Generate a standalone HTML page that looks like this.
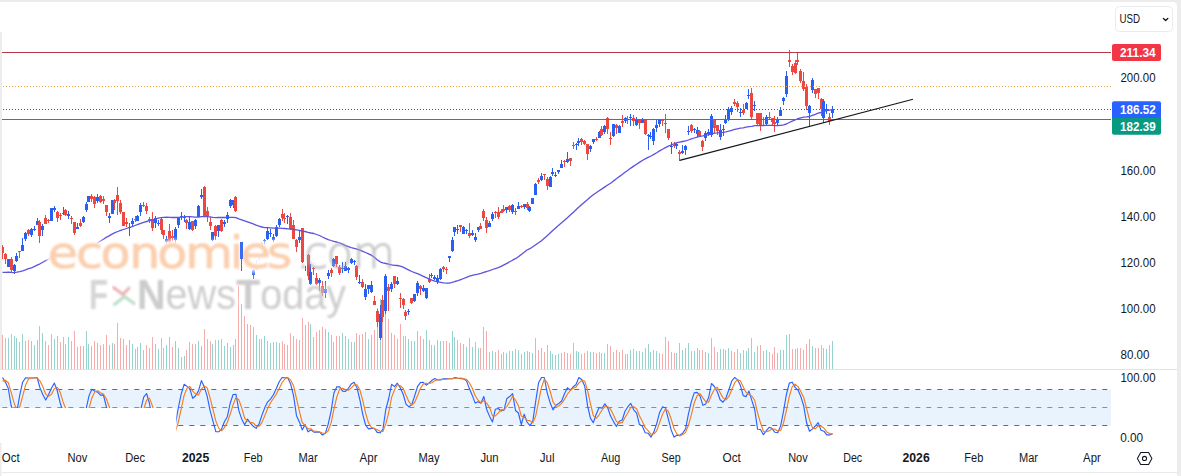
<!DOCTYPE html>
<html lang="en"><head><meta charset="utf-8"><title>NVDA chart</title>
<style>
html,body{margin:0;padding:0;background:#ececec;}
body{width:1181px;height:476px;overflow:hidden;position:relative;font-family:'Liberation Sans', sans-serif;}
</style></head><body>
<svg width="1181" height="476" viewBox="0 0 1181 476" style="display:block;position:absolute;left:0;top:0">
<defs>
<filter id="b1" x="-5%" y="-30%" width="110%" height="160%"><feGaussianBlur stdDeviation="0.9"/></filter>
<filter id="b1e" x="-5%" y="-30%" width="110%" height="160%"><feGaussianBlur stdDeviation="0.8"/></filter>
<filter id="b2" x="-5%" y="-40%" width="110%" height="180%"><feGaussianBlur stdDeviation="2.2"/></filter>
<clipPath id="mainclip"><rect x="0" y="2" width="1111" height="367"/></clipPath>
<clipPath id="stclip"><rect x="0" y="370" width="1111" height="74"/></clipPath>
</defs>
<rect x="0" y="0" width="1181" height="476" fill="#ececec"/>
<path d="M0 2 H1173 Q1177 2 1177 6 V476 H0 Z" fill="#ffffff"/>
<rect x="0" y="389.5" width="1111" height="36" fill="#e9f3fd"/>
<line x1="0" x2="1111" y1="389.5" y2="389.5" stroke="#666975" stroke-width="1" stroke-dasharray="5 6" stroke-dashoffset="-2.3"/>
<line x1="0" x2="1111" y1="407.5" y2="407.5" stroke="#8b8e98" stroke-width="1" stroke-dasharray="5 6" stroke-dashoffset="-2.3"/>
<line x1="0" x2="1111" y1="425.5" y2="425.5" stroke="#666975" stroke-width="1" stroke-dasharray="5 6" stroke-dashoffset="-2.3"/>
<g clip-path="url(#mainclip)" shape-rendering="crispEdges">
<rect x="2" y="335" width="1" height="34" fill="#f6acaa"/>
<rect x="5" y="338" width="1" height="31" fill="#f6acaa"/>
<rect x="8" y="338" width="1" height="31" fill="#96d3cd"/>
<rect x="11" y="334" width="1" height="35" fill="#f6acaa"/>
<rect x="14" y="336" width="1" height="33" fill="#96d3cd"/>
<rect x="16" y="338" width="1" height="31" fill="#96d3cd"/>
<rect x="19" y="342" width="1" height="27" fill="#f6acaa"/>
<rect x="22" y="334" width="1" height="35" fill="#96d3cd"/>
<rect x="25" y="341" width="1" height="28" fill="#96d3cd"/>
<rect x="28" y="340" width="1" height="29" fill="#f6acaa"/>
<rect x="31" y="341" width="1" height="28" fill="#96d3cd"/>
<rect x="34" y="345" width="1" height="24" fill="#96d3cd"/>
<rect x="37" y="340" width="1" height="29" fill="#96d3cd"/>
<rect x="39" y="326" width="1" height="43" fill="#f6acaa"/>
<rect x="42" y="333" width="1" height="36" fill="#96d3cd"/>
<rect x="45" y="341" width="1" height="28" fill="#f6acaa"/>
<rect x="48" y="345" width="1" height="24" fill="#f6acaa"/>
<rect x="51" y="334" width="1" height="35" fill="#96d3cd"/>
<rect x="54" y="339" width="1" height="30" fill="#96d3cd"/>
<rect x="57" y="336" width="1" height="33" fill="#f6acaa"/>
<rect x="60" y="342" width="1" height="27" fill="#f6acaa"/>
<rect x="63" y="337" width="1" height="32" fill="#96d3cd"/>
<rect x="65" y="344" width="1" height="25" fill="#f6acaa"/>
<rect x="68" y="337" width="1" height="32" fill="#96d3cd"/>
<rect x="71" y="341" width="1" height="28" fill="#f6acaa"/>
<rect x="74" y="331" width="1" height="38" fill="#f6acaa"/>
<rect x="77" y="347" width="1" height="22" fill="#96d3cd"/>
<rect x="80" y="346" width="1" height="23" fill="#f6acaa"/>
<rect x="83" y="346" width="1" height="23" fill="#96d3cd"/>
<rect x="86" y="331" width="1" height="38" fill="#96d3cd"/>
<rect x="88" y="344" width="1" height="25" fill="#96d3cd"/>
<rect x="91" y="346" width="1" height="23" fill="#f6acaa"/>
<rect x="94" y="341" width="1" height="28" fill="#f6acaa"/>
<rect x="97" y="343" width="1" height="26" fill="#96d3cd"/>
<rect x="100" y="345" width="1" height="24" fill="#f6acaa"/>
<rect x="103" y="344" width="1" height="25" fill="#f6acaa"/>
<rect x="106" y="335" width="1" height="34" fill="#f6acaa"/>
<rect x="109" y="345" width="1" height="24" fill="#96d3cd"/>
<rect x="112" y="343" width="1" height="26" fill="#96d3cd"/>
<rect x="114" y="344" width="1" height="25" fill="#f6acaa"/>
<rect x="117" y="323" width="1" height="46" fill="#f6acaa"/>
<rect x="120" y="338" width="1" height="31" fill="#f6acaa"/>
<rect x="123" y="339" width="1" height="30" fill="#f6acaa"/>
<rect x="126" y="345" width="1" height="24" fill="#f6acaa"/>
<rect x="129" y="340" width="1" height="29" fill="#96d3cd"/>
<rect x="132" y="344" width="1" height="25" fill="#96d3cd"/>
<rect x="135" y="349" width="1" height="20" fill="#f6acaa"/>
<rect x="137" y="347" width="1" height="22" fill="#96d3cd"/>
<rect x="140" y="343" width="1" height="26" fill="#96d3cd"/>
<rect x="143" y="350" width="1" height="19" fill="#f6acaa"/>
<rect x="146" y="345" width="1" height="24" fill="#f6acaa"/>
<rect x="149" y="348" width="1" height="21" fill="#f6acaa"/>
<rect x="152" y="337" width="1" height="32" fill="#f6acaa"/>
<rect x="155" y="344" width="1" height="25" fill="#96d3cd"/>
<rect x="158" y="349" width="1" height="20" fill="#96d3cd"/>
<rect x="161" y="338" width="1" height="31" fill="#f6acaa"/>
<rect x="163" y="348" width="1" height="21" fill="#f6acaa"/>
<rect x="166" y="345" width="1" height="24" fill="#96d3cd"/>
<rect x="169" y="337" width="1" height="32" fill="#f6acaa"/>
<rect x="172" y="347" width="1" height="22" fill="#f6acaa"/>
<rect x="175" y="341" width="1" height="28" fill="#96d3cd"/>
<rect x="178" y="348" width="1" height="21" fill="#96d3cd"/>
<rect x="181" y="357" width="1" height="12" fill="#96d3cd"/>
<rect x="184" y="356" width="1" height="13" fill="#96d3cd"/>
<rect x="186" y="350" width="1" height="19" fill="#f6acaa"/>
<rect x="189" y="342" width="1" height="27" fill="#96d3cd"/>
<rect x="192" y="344" width="1" height="25" fill="#f6acaa"/>
<rect x="195" y="344" width="1" height="25" fill="#96d3cd"/>
<rect x="198" y="341" width="1" height="28" fill="#96d3cd"/>
<rect x="201" y="346" width="1" height="23" fill="#96d3cd"/>
<rect x="204" y="329" width="1" height="40" fill="#f6acaa"/>
<rect x="207" y="339" width="1" height="30" fill="#f6acaa"/>
<rect x="210" y="341" width="1" height="28" fill="#f6acaa"/>
<rect x="212" y="344" width="1" height="25" fill="#96d3cd"/>
<rect x="215" y="340" width="1" height="29" fill="#f6acaa"/>
<rect x="218" y="340" width="1" height="29" fill="#96d3cd"/>
<rect x="221" y="339" width="1" height="30" fill="#f6acaa"/>
<rect x="224" y="346" width="1" height="23" fill="#96d3cd"/>
<rect x="227" y="343" width="1" height="26" fill="#96d3cd"/>
<rect x="230" y="347" width="1" height="22" fill="#96d3cd"/>
<rect x="233" y="345" width="1" height="24" fill="#96d3cd"/>
<rect x="235" y="339" width="1" height="30" fill="#f6acaa"/>
<rect x="238" y="286" width="1" height="83" fill="#f6acaa"/>
<rect x="241" y="304" width="1" height="65" fill="#96d3cd"/>
<rect x="244" y="316" width="1" height="53" fill="#f6acaa"/>
<rect x="247" y="324" width="1" height="45" fill="#96d3cd"/>
<rect x="250" y="325" width="1" height="44" fill="#f6acaa"/>
<rect x="253" y="327" width="1" height="42" fill="#96d3cd"/>
<rect x="256" y="335" width="1" height="34" fill="#96d3cd"/>
<rect x="259" y="339" width="1" height="30" fill="#96d3cd"/>
<rect x="261" y="339" width="1" height="30" fill="#96d3cd"/>
<rect x="264" y="336" width="1" height="33" fill="#96d3cd"/>
<rect x="267" y="341" width="1" height="28" fill="#96d3cd"/>
<rect x="270" y="343" width="1" height="26" fill="#96d3cd"/>
<rect x="273" y="342" width="1" height="27" fill="#96d3cd"/>
<rect x="276" y="342" width="1" height="27" fill="#96d3cd"/>
<rect x="279" y="343" width="1" height="26" fill="#96d3cd"/>
<rect x="282" y="341" width="1" height="28" fill="#f6acaa"/>
<rect x="284" y="344" width="1" height="25" fill="#f6acaa"/>
<rect x="287" y="345" width="1" height="24" fill="#96d3cd"/>
<rect x="290" y="333" width="1" height="36" fill="#f6acaa"/>
<rect x="293" y="336" width="1" height="33" fill="#f6acaa"/>
<rect x="296" y="339" width="1" height="30" fill="#f6acaa"/>
<rect x="299" y="340" width="1" height="29" fill="#96d3cd"/>
<rect x="302" y="318" width="1" height="51" fill="#f6acaa"/>
<rect x="305" y="325" width="1" height="44" fill="#96d3cd"/>
<rect x="308" y="322" width="1" height="47" fill="#f6acaa"/>
<rect x="310" y="324" width="1" height="45" fill="#96d3cd"/>
<rect x="313" y="337" width="1" height="32" fill="#f6acaa"/>
<rect x="316" y="332" width="1" height="37" fill="#f6acaa"/>
<rect x="319" y="330" width="1" height="39" fill="#96d3cd"/>
<rect x="322" y="327" width="1" height="42" fill="#f6acaa"/>
<rect x="325" y="329" width="1" height="40" fill="#96d3cd"/>
<rect x="328" y="332" width="1" height="37" fill="#96d3cd"/>
<rect x="331" y="335" width="1" height="34" fill="#f6acaa"/>
<rect x="333" y="342" width="1" height="27" fill="#96d3cd"/>
<rect x="336" y="336" width="1" height="33" fill="#f6acaa"/>
<rect x="339" y="336" width="1" height="33" fill="#f6acaa"/>
<rect x="342" y="333" width="1" height="36" fill="#96d3cd"/>
<rect x="345" y="336" width="1" height="33" fill="#96d3cd"/>
<rect x="348" y="339" width="1" height="30" fill="#96d3cd"/>
<rect x="351" y="342" width="1" height="27" fill="#96d3cd"/>
<rect x="354" y="342" width="1" height="27" fill="#96d3cd"/>
<rect x="356" y="333" width="1" height="36" fill="#f6acaa"/>
<rect x="359" y="335" width="1" height="34" fill="#96d3cd"/>
<rect x="362" y="334" width="1" height="35" fill="#f6acaa"/>
<rect x="365" y="332" width="1" height="37" fill="#96d3cd"/>
<rect x="368" y="339" width="1" height="30" fill="#96d3cd"/>
<rect x="371" y="335" width="1" height="34" fill="#96d3cd"/>
<rect x="374" y="330" width="1" height="39" fill="#f6acaa"/>
<rect x="377" y="308" width="1" height="61" fill="#f6acaa"/>
<rect x="380" y="299" width="1" height="70" fill="#96d3cd"/>
<rect x="382" y="315" width="1" height="54" fill="#f6acaa"/>
<rect x="385" y="299" width="1" height="70" fill="#96d3cd"/>
<rect x="388" y="319" width="1" height="50" fill="#f6acaa"/>
<rect x="391" y="333" width="1" height="36" fill="#96d3cd"/>
<rect x="394" y="335" width="1" height="34" fill="#f6acaa"/>
<rect x="397" y="339" width="1" height="30" fill="#96d3cd"/>
<rect x="400" y="324" width="1" height="45" fill="#f6acaa"/>
<rect x="403" y="336" width="1" height="33" fill="#f6acaa"/>
<rect x="405" y="336" width="1" height="33" fill="#f6acaa"/>
<rect x="408" y="339" width="1" height="30" fill="#96d3cd"/>
<rect x="411" y="341" width="1" height="28" fill="#f6acaa"/>
<rect x="414" y="341" width="1" height="28" fill="#96d3cd"/>
<rect x="417" y="331" width="1" height="38" fill="#96d3cd"/>
<rect x="420" y="336" width="1" height="33" fill="#f6acaa"/>
<rect x="423" y="339" width="1" height="30" fill="#96d3cd"/>
<rect x="426" y="330" width="1" height="39" fill="#96d3cd"/>
<rect x="429" y="340" width="1" height="29" fill="#f6acaa"/>
<rect x="431" y="345" width="1" height="24" fill="#96d3cd"/>
<rect x="434" y="345" width="1" height="24" fill="#96d3cd"/>
<rect x="437" y="340" width="1" height="29" fill="#96d3cd"/>
<rect x="440" y="341" width="1" height="28" fill="#96d3cd"/>
<rect x="443" y="341" width="1" height="28" fill="#f6acaa"/>
<rect x="446" y="341" width="1" height="28" fill="#f6acaa"/>
<rect x="449" y="343" width="1" height="26" fill="#96d3cd"/>
<rect x="452" y="331" width="1" height="38" fill="#96d3cd"/>
<rect x="454" y="337" width="1" height="32" fill="#96d3cd"/>
<rect x="457" y="340" width="1" height="29" fill="#96d3cd"/>
<rect x="460" y="343" width="1" height="26" fill="#f6acaa"/>
<rect x="463" y="344" width="1" height="25" fill="#96d3cd"/>
<rect x="466" y="347" width="1" height="22" fill="#96d3cd"/>
<rect x="469" y="338" width="1" height="31" fill="#f6acaa"/>
<rect x="472" y="347" width="1" height="22" fill="#96d3cd"/>
<rect x="475" y="342" width="1" height="27" fill="#96d3cd"/>
<rect x="478" y="348" width="1" height="21" fill="#96d3cd"/>
<rect x="480" y="348" width="1" height="21" fill="#f6acaa"/>
<rect x="483" y="327" width="1" height="42" fill="#f6acaa"/>
<rect x="486" y="331" width="1" height="38" fill="#f6acaa"/>
<rect x="489" y="352" width="1" height="17" fill="#96d3cd"/>
<rect x="492" y="351" width="1" height="18" fill="#96d3cd"/>
<rect x="495" y="352" width="1" height="17" fill="#f6acaa"/>
<rect x="498" y="350" width="1" height="19" fill="#f6acaa"/>
<rect x="501" y="354" width="1" height="15" fill="#f6acaa"/>
<rect x="503" y="352" width="1" height="17" fill="#f6acaa"/>
<rect x="506" y="353" width="1" height="16" fill="#96d3cd"/>
<rect x="509" y="351" width="1" height="18" fill="#f6acaa"/>
<rect x="512" y="351" width="1" height="18" fill="#96d3cd"/>
<rect x="515" y="349" width="1" height="20" fill="#f6acaa"/>
<rect x="518" y="350" width="1" height="19" fill="#96d3cd"/>
<rect x="521" y="354" width="1" height="15" fill="#f6acaa"/>
<rect x="524" y="352" width="1" height="17" fill="#96d3cd"/>
<rect x="527" y="351" width="1" height="18" fill="#f6acaa"/>
<rect x="529" y="352" width="1" height="17" fill="#96d3cd"/>
<rect x="532" y="353" width="1" height="16" fill="#96d3cd"/>
<rect x="535" y="338" width="1" height="31" fill="#96d3cd"/>
<rect x="538" y="350" width="1" height="19" fill="#f6acaa"/>
<rect x="541" y="348" width="1" height="21" fill="#96d3cd"/>
<rect x="544" y="352" width="1" height="17" fill="#f6acaa"/>
<rect x="547" y="345" width="1" height="24" fill="#f6acaa"/>
<rect x="550" y="351" width="1" height="18" fill="#96d3cd"/>
<rect x="552" y="354" width="1" height="15" fill="#96d3cd"/>
<rect x="555" y="355" width="1" height="14" fill="#96d3cd"/>
<rect x="558" y="354" width="1" height="15" fill="#96d3cd"/>
<rect x="561" y="353" width="1" height="16" fill="#96d3cd"/>
<rect x="564" y="352" width="1" height="17" fill="#f6acaa"/>
<rect x="567" y="353" width="1" height="16" fill="#96d3cd"/>
<rect x="570" y="354" width="1" height="15" fill="#f6acaa"/>
<rect x="573" y="343" width="1" height="26" fill="#f6acaa"/>
<rect x="576" y="351" width="1" height="18" fill="#96d3cd"/>
<rect x="578" y="352" width="1" height="17" fill="#96d3cd"/>
<rect x="581" y="354" width="1" height="15" fill="#f6acaa"/>
<rect x="584" y="353" width="1" height="16" fill="#f6acaa"/>
<rect x="587" y="351" width="1" height="18" fill="#f6acaa"/>
<rect x="590" y="352" width="1" height="17" fill="#96d3cd"/>
<rect x="593" y="352" width="1" height="17" fill="#96d3cd"/>
<rect x="596" y="353" width="1" height="16" fill="#f6acaa"/>
<rect x="599" y="352" width="1" height="17" fill="#96d3cd"/>
<rect x="601" y="353" width="1" height="16" fill="#f6acaa"/>
<rect x="604" y="353" width="1" height="16" fill="#96d3cd"/>
<rect x="607" y="344" width="1" height="25" fill="#f6acaa"/>
<rect x="610" y="346" width="1" height="23" fill="#f6acaa"/>
<rect x="613" y="352" width="1" height="17" fill="#96d3cd"/>
<rect x="616" y="350" width="1" height="19" fill="#f6acaa"/>
<rect x="619" y="352" width="1" height="17" fill="#96d3cd"/>
<rect x="622" y="350" width="1" height="19" fill="#f6acaa"/>
<rect x="625" y="354" width="1" height="15" fill="#96d3cd"/>
<rect x="627" y="354" width="1" height="15" fill="#f6acaa"/>
<rect x="630" y="350" width="1" height="19" fill="#96d3cd"/>
<rect x="633" y="349" width="1" height="20" fill="#f6acaa"/>
<rect x="636" y="351" width="1" height="18" fill="#96d3cd"/>
<rect x="639" y="351" width="1" height="18" fill="#f6acaa"/>
<rect x="642" y="352" width="1" height="17" fill="#96d3cd"/>
<rect x="645" y="348" width="1" height="21" fill="#f6acaa"/>
<rect x="648" y="344" width="1" height="25" fill="#96d3cd"/>
<rect x="650" y="352" width="1" height="17" fill="#96d3cd"/>
<rect x="653" y="350" width="1" height="19" fill="#96d3cd"/>
<rect x="656" y="351" width="1" height="18" fill="#96d3cd"/>
<rect x="659" y="353" width="1" height="16" fill="#96d3cd"/>
<rect x="662" y="354" width="1" height="15" fill="#f6acaa"/>
<rect x="665" y="337" width="1" height="32" fill="#f6acaa"/>
<rect x="668" y="341" width="1" height="28" fill="#f6acaa"/>
<rect x="671" y="352" width="1" height="17" fill="#96d3cd"/>
<rect x="674" y="353" width="1" height="16" fill="#f6acaa"/>
<rect x="676" y="353" width="1" height="16" fill="#96d3cd"/>
<rect x="679" y="343" width="1" height="26" fill="#f6acaa"/>
<rect x="682" y="350" width="1" height="19" fill="#96d3cd"/>
<rect x="685" y="348" width="1" height="21" fill="#96d3cd"/>
<rect x="688" y="343" width="1" height="26" fill="#96d3cd"/>
<rect x="691" y="351" width="1" height="18" fill="#f6acaa"/>
<rect x="694" y="351" width="1" height="18" fill="#96d3cd"/>
<rect x="697" y="348" width="1" height="21" fill="#96d3cd"/>
<rect x="699" y="350" width="1" height="19" fill="#f6acaa"/>
<rect x="702" y="350" width="1" height="19" fill="#f6acaa"/>
<rect x="705" y="352" width="1" height="17" fill="#96d3cd"/>
<rect x="708" y="353" width="1" height="16" fill="#96d3cd"/>
<rect x="711" y="338" width="1" height="31" fill="#96d3cd"/>
<rect x="714" y="347" width="1" height="22" fill="#f6acaa"/>
<rect x="717" y="352" width="1" height="17" fill="#f6acaa"/>
<rect x="720" y="349" width="1" height="20" fill="#96d3cd"/>
<rect x="723" y="349" width="1" height="20" fill="#96d3cd"/>
<rect x="725" y="350" width="1" height="19" fill="#96d3cd"/>
<rect x="728" y="348" width="1" height="21" fill="#96d3cd"/>
<rect x="731" y="351" width="1" height="18" fill="#96d3cd"/>
<rect x="734" y="352" width="1" height="17" fill="#f6acaa"/>
<rect x="737" y="349" width="1" height="20" fill="#f6acaa"/>
<rect x="740" y="353" width="1" height="16" fill="#96d3cd"/>
<rect x="743" y="350" width="1" height="19" fill="#f6acaa"/>
<rect x="746" y="351" width="1" height="18" fill="#96d3cd"/>
<rect x="748" y="348" width="1" height="21" fill="#96d3cd"/>
<rect x="751" y="338" width="1" height="31" fill="#f6acaa"/>
<rect x="754" y="352" width="1" height="17" fill="#96d3cd"/>
<rect x="757" y="346" width="1" height="23" fill="#f6acaa"/>
<rect x="760" y="345" width="1" height="24" fill="#f6acaa"/>
<rect x="763" y="351" width="1" height="18" fill="#f6acaa"/>
<rect x="766" y="350" width="1" height="19" fill="#96d3cd"/>
<rect x="769" y="352" width="1" height="17" fill="#f6acaa"/>
<rect x="772" y="354" width="1" height="15" fill="#f6acaa"/>
<rect x="774" y="347" width="1" height="22" fill="#f6acaa"/>
<rect x="777" y="353" width="1" height="16" fill="#96d3cd"/>
<rect x="780" y="350" width="1" height="19" fill="#96d3cd"/>
<rect x="783" y="350" width="1" height="19" fill="#96d3cd"/>
<rect x="786" y="335" width="1" height="34" fill="#96d3cd"/>
<rect x="789" y="334" width="1" height="35" fill="#f6acaa"/>
<rect x="792" y="349" width="1" height="20" fill="#f6acaa"/>
<rect x="795" y="349" width="1" height="20" fill="#f6acaa"/>
<rect x="797" y="348" width="1" height="21" fill="#f6acaa"/>
<rect x="800" y="348" width="1" height="21" fill="#f6acaa"/>
<rect x="803" y="350" width="1" height="19" fill="#f6acaa"/>
<rect x="806" y="344" width="1" height="25" fill="#f6acaa"/>
<rect x="809" y="339" width="1" height="30" fill="#96d3cd"/>
<rect x="812" y="346" width="1" height="23" fill="#96d3cd"/>
<rect x="815" y="348" width="1" height="21" fill="#f6acaa"/>
<rect x="818" y="348" width="1" height="21" fill="#f6acaa"/>
<rect x="821" y="345" width="1" height="24" fill="#f6acaa"/>
<rect x="823" y="348" width="1" height="21" fill="#96d3cd"/>
<rect x="826" y="349" width="1" height="20" fill="#96d3cd"/>
<rect x="829" y="345" width="1" height="24" fill="#f6acaa"/>
<rect x="832" y="341" width="1" height="28" fill="#96d3cd"/>
</g>
<line x1="0" x2="1111" y1="109.5" y2="109.5" stroke="#3b4fb0" stroke-width="1" stroke-dasharray="1 2"/>
<g shape-rendering="crispEdges">
<rect x="2" y="245" width="1" height="14" fill="#ec4842"/>
<rect x="1" y="247" width="3" height="6" fill="#ec4842"/>
<rect x="5" y="253" width="1" height="11" fill="#ec4842"/>
<rect x="4" y="254" width="3" height="5" fill="#ec4842"/>
<rect x="8" y="259" width="1" height="8" fill="#2a60f2"/>
<rect x="7" y="259" width="3" height="8" fill="#2a60f2"/>
<rect x="11" y="257" width="1" height="15" fill="#ec4842"/>
<rect x="10" y="259" width="3" height="11" fill="#ec4842"/>
<rect x="14" y="264" width="1" height="10" fill="#2a60f2"/>
<rect x="13" y="265" width="3" height="6" fill="#2a60f2"/>
<rect x="16" y="253" width="1" height="9" fill="#2a60f2"/>
<rect x="15" y="256" width="3" height="5" fill="#2a60f2"/>
<rect x="19" y="251" width="1" height="7" fill="#ec4842"/>
<rect x="18" y="251" width="3" height="1" fill="#ec4842"/>
<rect x="22" y="238" width="1" height="13" fill="#2a60f2"/>
<rect x="21" y="245" width="3" height="6" fill="#2a60f2"/>
<rect x="25" y="232" width="1" height="9" fill="#2a60f2"/>
<rect x="24" y="233" width="3" height="6" fill="#2a60f2"/>
<rect x="28" y="229" width="1" height="7" fill="#ec4842"/>
<rect x="27" y="230" width="3" height="4" fill="#ec4842"/>
<rect x="31" y="228" width="1" height="9" fill="#2a60f2"/>
<rect x="30" y="229" width="3" height="6" fill="#2a60f2"/>
<rect x="34" y="226" width="1" height="5" fill="#2a60f2"/>
<rect x="33" y="229" width="3" height="1" fill="#2a60f2"/>
<rect x="37" y="218" width="1" height="7" fill="#2a60f2"/>
<rect x="36" y="221" width="3" height="4" fill="#2a60f2"/>
<rect x="39" y="220" width="1" height="23" fill="#ec4842"/>
<rect x="38" y="222" width="3" height="14" fill="#ec4842"/>
<rect x="42" y="224" width="1" height="12" fill="#2a60f2"/>
<rect x="41" y="226" width="3" height="4" fill="#2a60f2"/>
<rect x="45" y="215" width="1" height="9" fill="#ec4842"/>
<rect x="44" y="218" width="3" height="6" fill="#ec4842"/>
<rect x="48" y="219" width="1" height="4" fill="#ec4842"/>
<rect x="47" y="220" width="3" height="1" fill="#ec4842"/>
<rect x="51" y="208" width="1" height="13" fill="#2a60f2"/>
<rect x="50" y="208" width="3" height="13" fill="#2a60f2"/>
<rect x="54" y="206" width="1" height="6" fill="#2a60f2"/>
<rect x="53" y="208" width="3" height="2" fill="#2a60f2"/>
<rect x="57" y="211" width="1" height="11" fill="#ec4842"/>
<rect x="56" y="212" width="3" height="6" fill="#ec4842"/>
<rect x="60" y="213" width="1" height="7" fill="#ec4842"/>
<rect x="59" y="215" width="3" height="1" fill="#ec4842"/>
<rect x="63" y="207" width="1" height="8" fill="#2a60f2"/>
<rect x="62" y="213" width="3" height="1" fill="#2a60f2"/>
<rect x="65" y="209" width="1" height="7" fill="#ec4842"/>
<rect x="64" y="210" width="3" height="5" fill="#ec4842"/>
<rect x="68" y="211" width="1" height="8" fill="#2a60f2"/>
<rect x="67" y="214" width="3" height="2" fill="#2a60f2"/>
<rect x="71" y="216" width="1" height="8" fill="#ec4842"/>
<rect x="70" y="218" width="3" height="1" fill="#ec4842"/>
<rect x="74" y="222" width="1" height="13" fill="#ec4842"/>
<rect x="73" y="222" width="3" height="11" fill="#ec4842"/>
<rect x="77" y="223" width="1" height="6" fill="#2a60f2"/>
<rect x="76" y="227" width="3" height="2" fill="#2a60f2"/>
<rect x="80" y="219" width="1" height="8" fill="#ec4842"/>
<rect x="79" y="223" width="3" height="3" fill="#ec4842"/>
<rect x="83" y="216" width="1" height="7" fill="#2a60f2"/>
<rect x="82" y="217" width="3" height="5" fill="#2a60f2"/>
<rect x="86" y="202" width="1" height="10" fill="#2a60f2"/>
<rect x="85" y="204" width="3" height="6" fill="#2a60f2"/>
<rect x="88" y="196" width="1" height="6" fill="#2a60f2"/>
<rect x="87" y="196" width="3" height="6" fill="#2a60f2"/>
<rect x="91" y="194" width="1" height="8" fill="#ec4842"/>
<rect x="90" y="196" width="3" height="3" fill="#ec4842"/>
<rect x="94" y="196" width="1" height="12" fill="#ec4842"/>
<rect x="93" y="197" width="3" height="7" fill="#ec4842"/>
<rect x="97" y="194" width="1" height="9" fill="#2a60f2"/>
<rect x="96" y="197" width="3" height="4" fill="#2a60f2"/>
<rect x="100" y="195" width="1" height="8" fill="#ec4842"/>
<rect x="99" y="196" width="3" height="6" fill="#ec4842"/>
<rect x="103" y="196" width="1" height="8" fill="#ec4842"/>
<rect x="102" y="199" width="3" height="2" fill="#ec4842"/>
<rect x="106" y="205" width="1" height="11" fill="#ec4842"/>
<rect x="105" y="205" width="3" height="7" fill="#ec4842"/>
<rect x="109" y="213" width="1" height="10" fill="#2a60f2"/>
<rect x="108" y="216" width="3" height="2" fill="#2a60f2"/>
<rect x="112" y="200" width="1" height="14" fill="#2a60f2"/>
<rect x="111" y="200" width="3" height="14" fill="#2a60f2"/>
<rect x="114" y="199" width="1" height="11" fill="#ec4842"/>
<rect x="113" y="200" width="3" height="3" fill="#ec4842"/>
<rect x="117" y="187" width="1" height="28" fill="#ec4842"/>
<rect x="116" y="195" width="3" height="6" fill="#ec4842"/>
<rect x="120" y="200" width="1" height="14" fill="#ec4842"/>
<rect x="119" y="203" width="3" height="9" fill="#ec4842"/>
<rect x="123" y="212" width="1" height="14" fill="#ec4842"/>
<rect x="122" y="212" width="3" height="14" fill="#ec4842"/>
<rect x="126" y="218" width="1" height="9" fill="#ec4842"/>
<rect x="125" y="222" width="3" height="2" fill="#ec4842"/>
<rect x="129" y="223" width="1" height="13" fill="#2a60f2"/>
<rect x="128" y="227" width="3" height="1" fill="#2a60f2"/>
<rect x="132" y="218" width="1" height="8" fill="#2a60f2"/>
<rect x="131" y="221" width="3" height="3" fill="#2a60f2"/>
<rect x="135" y="216" width="1" height="6" fill="#ec4842"/>
<rect x="134" y="219" width="3" height="1" fill="#ec4842"/>
<rect x="137" y="215" width="1" height="6" fill="#2a60f2"/>
<rect x="136" y="216" width="3" height="5" fill="#2a60f2"/>
<rect x="140" y="203" width="1" height="13" fill="#2a60f2"/>
<rect x="139" y="205" width="3" height="7" fill="#2a60f2"/>
<rect x="143" y="202" width="1" height="5" fill="#ec4842"/>
<rect x="142" y="205" width="3" height="1" fill="#ec4842"/>
<rect x="146" y="203" width="1" height="11" fill="#ec4842"/>
<rect x="145" y="206" width="3" height="5" fill="#ec4842"/>
<rect x="149" y="217" width="1" height="6" fill="#ec4842"/>
<rect x="148" y="219" width="3" height="1" fill="#ec4842"/>
<rect x="152" y="212" width="1" height="19" fill="#ec4842"/>
<rect x="151" y="219" width="3" height="9" fill="#ec4842"/>
<rect x="155" y="216" width="1" height="12" fill="#2a60f2"/>
<rect x="154" y="218" width="3" height="5" fill="#2a60f2"/>
<rect x="158" y="220" width="1" height="6" fill="#2a60f2"/>
<rect x="157" y="223" width="3" height="1" fill="#2a60f2"/>
<rect x="161" y="218" width="1" height="16" fill="#ec4842"/>
<rect x="160" y="219" width="3" height="11" fill="#ec4842"/>
<rect x="163" y="230" width="1" height="9" fill="#ec4842"/>
<rect x="162" y="230" width="3" height="5" fill="#ec4842"/>
<rect x="166" y="236" width="1" height="11" fill="#2a60f2"/>
<rect x="165" y="239" width="3" height="3" fill="#2a60f2"/>
<rect x="169" y="224" width="1" height="20" fill="#ec4842"/>
<rect x="168" y="231" width="3" height="11" fill="#ec4842"/>
<rect x="172" y="230" width="1" height="11" fill="#ec4842"/>
<rect x="171" y="236" width="3" height="2" fill="#ec4842"/>
<rect x="175" y="227" width="1" height="17" fill="#2a60f2"/>
<rect x="174" y="229" width="3" height="11" fill="#2a60f2"/>
<rect x="178" y="217" width="1" height="11" fill="#2a60f2"/>
<rect x="177" y="217" width="3" height="8" fill="#2a60f2"/>
<rect x="181" y="212" width="1" height="8" fill="#2a60f2"/>
<rect x="180" y="216" width="3" height="1" fill="#2a60f2"/>
<rect x="184" y="215" width="1" height="7" fill="#2a60f2"/>
<rect x="183" y="217" width="3" height="1" fill="#2a60f2"/>
<rect x="186" y="219" width="1" height="10" fill="#ec4842"/>
<rect x="185" y="220" width="3" height="3" fill="#ec4842"/>
<rect x="189" y="216" width="1" height="14" fill="#2a60f2"/>
<rect x="188" y="222" width="3" height="7" fill="#2a60f2"/>
<rect x="192" y="221" width="1" height="10" fill="#ec4842"/>
<rect x="191" y="221" width="3" height="9" fill="#ec4842"/>
<rect x="195" y="219" width="1" height="10" fill="#2a60f2"/>
<rect x="194" y="220" width="3" height="6" fill="#2a60f2"/>
<rect x="198" y="205" width="1" height="12" fill="#2a60f2"/>
<rect x="197" y="206" width="3" height="11" fill="#2a60f2"/>
<rect x="201" y="189" width="1" height="10" fill="#2a60f2"/>
<rect x="200" y="195" width="3" height="2" fill="#2a60f2"/>
<rect x="204" y="186" width="1" height="31" fill="#ec4842"/>
<rect x="203" y="187" width="3" height="29" fill="#ec4842"/>
<rect x="207" y="207" width="1" height="15" fill="#ec4842"/>
<rect x="206" y="211" width="3" height="5" fill="#ec4842"/>
<rect x="210" y="217" width="1" height="13" fill="#ec4842"/>
<rect x="209" y="222" width="3" height="4" fill="#ec4842"/>
<rect x="212" y="232" width="1" height="9" fill="#2a60f2"/>
<rect x="211" y="232" width="3" height="8" fill="#2a60f2"/>
<rect x="215" y="225" width="1" height="15" fill="#ec4842"/>
<rect x="214" y="226" width="3" height="10" fill="#ec4842"/>
<rect x="218" y="225" width="1" height="12" fill="#2a60f2"/>
<rect x="217" y="225" width="3" height="6" fill="#2a60f2"/>
<rect x="221" y="219" width="1" height="13" fill="#ec4842"/>
<rect x="220" y="220" width="3" height="11" fill="#ec4842"/>
<rect x="224" y="220" width="1" height="7" fill="#2a60f2"/>
<rect x="223" y="222" width="3" height="2" fill="#2a60f2"/>
<rect x="227" y="212" width="1" height="11" fill="#2a60f2"/>
<rect x="226" y="215" width="3" height="4" fill="#2a60f2"/>
<rect x="230" y="199" width="1" height="9" fill="#2a60f2"/>
<rect x="229" y="200" width="3" height="6" fill="#2a60f2"/>
<rect x="233" y="200" width="1" height="8" fill="#2a60f2"/>
<rect x="232" y="200" width="3" height="5" fill="#2a60f2"/>
<rect x="235" y="196" width="1" height="16" fill="#ec4842"/>
<rect x="234" y="197" width="3" height="14" fill="#ec4842"/>
<rect x="238" y="243" width="1" height="27" fill="#ec4842"/>
<rect x="237" y="252" width="3" height="14" fill="#ec4842"/>
<rect x="241" y="242" width="1" height="29" fill="#2a60f2"/>
<rect x="240" y="242" width="3" height="17" fill="#2a60f2"/>
<rect x="244" y="247" width="1" height="16" fill="#ec4842"/>
<rect x="243" y="248" width="3" height="6" fill="#ec4842"/>
<rect x="247" y="251" width="1" height="16" fill="#2a60f2"/>
<rect x="246" y="252" width="3" height="4" fill="#2a60f2"/>
<rect x="250" y="245" width="1" height="20" fill="#ec4842"/>
<rect x="249" y="254" width="3" height="9" fill="#ec4842"/>
<rect x="253" y="266" width="1" height="13" fill="#2a60f2"/>
<rect x="252" y="270" width="3" height="5" fill="#2a60f2"/>
<rect x="256" y="260" width="1" height="10" fill="#2a60f2"/>
<rect x="255" y="266" width="3" height="4" fill="#2a60f2"/>
<rect x="259" y="251" width="1" height="10" fill="#2a60f2"/>
<rect x="258" y="252" width="3" height="7" fill="#2a60f2"/>
<rect x="261" y="242" width="1" height="9" fill="#2a60f2"/>
<rect x="260" y="243" width="3" height="3" fill="#2a60f2"/>
<rect x="264" y="239" width="1" height="12" fill="#2a60f2"/>
<rect x="263" y="240" width="3" height="1" fill="#2a60f2"/>
<rect x="267" y="228" width="1" height="12" fill="#2a60f2"/>
<rect x="266" y="231" width="3" height="8" fill="#2a60f2"/>
<rect x="270" y="229" width="1" height="8" fill="#2a60f2"/>
<rect x="269" y="233" width="3" height="1" fill="#2a60f2"/>
<rect x="273" y="234" width="1" height="8" fill="#2a60f2"/>
<rect x="272" y="237" width="3" height="3" fill="#2a60f2"/>
<rect x="276" y="225" width="1" height="12" fill="#2a60f2"/>
<rect x="275" y="227" width="3" height="9" fill="#2a60f2"/>
<rect x="279" y="218" width="1" height="9" fill="#2a60f2"/>
<rect x="278" y="219" width="3" height="6" fill="#2a60f2"/>
<rect x="282" y="209" width="1" height="12" fill="#ec4842"/>
<rect x="281" y="214" width="3" height="4" fill="#ec4842"/>
<rect x="284" y="213" width="1" height="10" fill="#ec4842"/>
<rect x="283" y="218" width="3" height="1" fill="#ec4842"/>
<rect x="287" y="215" width="1" height="9" fill="#2a60f2"/>
<rect x="286" y="216" width="3" height="1" fill="#2a60f2"/>
<rect x="290" y="213" width="1" height="17" fill="#ec4842"/>
<rect x="289" y="217" width="3" height="12" fill="#ec4842"/>
<rect x="293" y="220" width="1" height="19" fill="#ec4842"/>
<rect x="292" y="225" width="3" height="14" fill="#ec4842"/>
<rect x="296" y="239" width="1" height="13" fill="#ec4842"/>
<rect x="295" y="240" width="3" height="7" fill="#ec4842"/>
<rect x="299" y="231" width="1" height="12" fill="#2a60f2"/>
<rect x="298" y="237" width="3" height="3" fill="#2a60f2"/>
<rect x="302" y="228" width="1" height="35" fill="#ec4842"/>
<rect x="301" y="228" width="3" height="34" fill="#ec4842"/>
<rect x="305" y="266" width="1" height="5" fill="#2a60f2"/>
<rect x="308" y="254" width="1" height="26" fill="#ec4842"/>
<rect x="307" y="255" width="3" height="21" fill="#ec4842"/>
<rect x="310" y="264" width="1" height="21" fill="#2a60f2"/>
<rect x="309" y="272" width="3" height="12" fill="#2a60f2"/>
<rect x="313" y="267" width="1" height="8" fill="#ec4842"/>
<rect x="312" y="268" width="3" height="1" fill="#ec4842"/>
<rect x="316" y="273" width="1" height="12" fill="#ec4842"/>
<rect x="315" y="278" width="3" height="6" fill="#ec4842"/>
<rect x="319" y="278" width="1" height="13" fill="#2a60f2"/>
<rect x="318" y="280" width="3" height="3" fill="#2a60f2"/>
<rect x="322" y="281" width="1" height="15" fill="#ec4842"/>
<rect x="321" y="286" width="3" height="7" fill="#ec4842"/>
<rect x="325" y="281" width="1" height="17" fill="#2a60f2"/>
<rect x="324" y="289" width="3" height="4" fill="#2a60f2"/>
<rect x="328" y="270" width="1" height="9" fill="#2a60f2"/>
<rect x="327" y="273" width="3" height="3" fill="#2a60f2"/>
<rect x="331" y="268" width="1" height="9" fill="#ec4842"/>
<rect x="330" y="270" width="3" height="3" fill="#ec4842"/>
<rect x="333" y="258" width="1" height="9" fill="#2a60f2"/>
<rect x="332" y="259" width="3" height="7" fill="#2a60f2"/>
<rect x="336" y="256" width="1" height="11" fill="#ec4842"/>
<rect x="335" y="256" width="3" height="8" fill="#ec4842"/>
<rect x="339" y="265" width="1" height="10" fill="#ec4842"/>
<rect x="338" y="267" width="3" height="6" fill="#ec4842"/>
<rect x="342" y="262" width="1" height="11" fill="#2a60f2"/>
<rect x="341" y="268" width="3" height="1" fill="#2a60f2"/>
<rect x="345" y="262" width="1" height="9" fill="#2a60f2"/>
<rect x="344" y="266" width="3" height="5" fill="#2a60f2"/>
<rect x="348" y="267" width="1" height="6" fill="#2a60f2"/>
<rect x="347" y="268" width="3" height="2" fill="#2a60f2"/>
<rect x="351" y="258" width="1" height="6" fill="#2a60f2"/>
<rect x="350" y="259" width="3" height="4" fill="#2a60f2"/>
<rect x="354" y="260" width="1" height="5" fill="#2a60f2"/>
<rect x="353" y="261" width="3" height="1" fill="#2a60f2"/>
<rect x="356" y="265" width="1" height="15" fill="#ec4842"/>
<rect x="355" y="266" width="3" height="11" fill="#ec4842"/>
<rect x="359" y="275" width="1" height="9" fill="#2a60f2"/>
<rect x="358" y="282" width="3" height="1" fill="#2a60f2"/>
<rect x="362" y="279" width="1" height="9" fill="#ec4842"/>
<rect x="361" y="282" width="3" height="5" fill="#ec4842"/>
<rect x="365" y="284" width="1" height="16" fill="#2a60f2"/>
<rect x="364" y="289" width="3" height="8" fill="#2a60f2"/>
<rect x="368" y="285" width="1" height="9" fill="#2a60f2"/>
<rect x="367" y="285" width="3" height="4" fill="#2a60f2"/>
<rect x="371" y="281" width="1" height="12" fill="#2a60f2"/>
<rect x="370" y="285" width="3" height="7" fill="#2a60f2"/>
<rect x="374" y="296" width="1" height="9" fill="#ec4842"/>
<rect x="373" y="301" width="3" height="4" fill="#ec4842"/>
<rect x="377" y="309" width="1" height="18" fill="#ec4842"/>
<rect x="376" y="311" width="3" height="11" fill="#ec4842"/>
<rect x="380" y="305" width="1" height="35" fill="#2a60f2"/>
<rect x="379" y="314" width="3" height="24" fill="#2a60f2"/>
<rect x="382" y="295" width="1" height="27" fill="#ec4842"/>
<rect x="381" y="300" width="3" height="17" fill="#ec4842"/>
<rect x="385" y="274" width="1" height="40" fill="#2a60f2"/>
<rect x="384" y="276" width="3" height="35" fill="#2a60f2"/>
<rect x="388" y="284" width="1" height="27" fill="#ec4842"/>
<rect x="387" y="287" width="3" height="4" fill="#ec4842"/>
<rect x="391" y="282" width="1" height="10" fill="#2a60f2"/>
<rect x="390" y="284" width="3" height="5" fill="#2a60f2"/>
<rect x="394" y="276" width="1" height="12" fill="#ec4842"/>
<rect x="393" y="276" width="3" height="8" fill="#ec4842"/>
<rect x="397" y="277" width="1" height="8" fill="#2a60f2"/>
<rect x="396" y="281" width="3" height="3" fill="#2a60f2"/>
<rect x="400" y="293" width="1" height="15" fill="#ec4842"/>
<rect x="399" y="298" width="3" height="1" fill="#ec4842"/>
<rect x="403" y="298" width="1" height="11" fill="#ec4842"/>
<rect x="402" y="299" width="3" height="6" fill="#ec4842"/>
<rect x="405" y="310" width="1" height="10" fill="#ec4842"/>
<rect x="404" y="312" width="3" height="4" fill="#ec4842"/>
<rect x="408" y="309" width="1" height="6" fill="#2a60f2"/>
<rect x="407" y="311" width="3" height="1" fill="#2a60f2"/>
<rect x="411" y="298" width="1" height="6" fill="#ec4842"/>
<rect x="410" y="298" width="3" height="5" fill="#ec4842"/>
<rect x="414" y="294" width="1" height="8" fill="#2a60f2"/>
<rect x="413" y="294" width="3" height="7" fill="#2a60f2"/>
<rect x="417" y="281" width="1" height="15" fill="#2a60f2"/>
<rect x="416" y="283" width="3" height="10" fill="#2a60f2"/>
<rect x="420" y="285" width="1" height="10" fill="#ec4842"/>
<rect x="419" y="286" width="3" height="3" fill="#ec4842"/>
<rect x="423" y="285" width="1" height="7" fill="#2a60f2"/>
<rect x="422" y="288" width="3" height="3" fill="#2a60f2"/>
<rect x="426" y="288" width="1" height="11" fill="#2a60f2"/>
<rect x="425" y="288" width="3" height="10" fill="#2a60f2"/>
<rect x="429" y="274" width="1" height="9" fill="#ec4842"/>
<rect x="428" y="279" width="3" height="3" fill="#ec4842"/>
<rect x="431" y="273" width="1" height="5" fill="#2a60f2"/>
<rect x="430" y="275" width="3" height="1" fill="#2a60f2"/>
<rect x="434" y="275" width="1" height="5" fill="#2a60f2"/>
<rect x="433" y="277" width="3" height="2" fill="#2a60f2"/>
<rect x="437" y="275" width="1" height="9" fill="#2a60f2"/>
<rect x="436" y="278" width="3" height="4" fill="#2a60f2"/>
<rect x="440" y="268" width="1" height="12" fill="#2a60f2"/>
<rect x="439" y="269" width="3" height="10" fill="#2a60f2"/>
<rect x="443" y="266" width="1" height="6" fill="#ec4842"/>
<rect x="442" y="267" width="3" height="2" fill="#ec4842"/>
<rect x="446" y="267" width="1" height="7" fill="#ec4842"/>
<rect x="445" y="269" width="3" height="1" fill="#ec4842"/>
<rect x="449" y="256" width="1" height="6" fill="#2a60f2"/>
<rect x="448" y="256" width="3" height="2" fill="#2a60f2"/>
<rect x="452" y="237" width="1" height="15" fill="#2a60f2"/>
<rect x="451" y="240" width="3" height="11" fill="#2a60f2"/>
<rect x="454" y="227" width="1" height="9" fill="#2a60f2"/>
<rect x="453" y="227" width="3" height="5" fill="#2a60f2"/>
<rect x="457" y="225" width="1" height="9" fill="#2a60f2"/>
<rect x="456" y="229" width="3" height="1" fill="#2a60f2"/>
<rect x="460" y="225" width="1" height="7" fill="#ec4842"/>
<rect x="459" y="225" width="3" height="2" fill="#ec4842"/>
<rect x="463" y="226" width="1" height="8" fill="#2a60f2"/>
<rect x="462" y="227" width="3" height="7" fill="#2a60f2"/>
<rect x="466" y="229" width="1" height="5" fill="#2a60f2"/>
<rect x="465" y="230" width="3" height="1" fill="#2a60f2"/>
<rect x="469" y="223" width="1" height="15" fill="#ec4842"/>
<rect x="468" y="233" width="3" height="3" fill="#ec4842"/>
<rect x="472" y="230" width="1" height="6" fill="#2a60f2"/>
<rect x="471" y="233" width="3" height="2" fill="#2a60f2"/>
<rect x="475" y="233" width="1" height="9" fill="#2a60f2"/>
<rect x="474" y="237" width="3" height="3" fill="#2a60f2"/>
<rect x="478" y="227" width="1" height="5" fill="#2a60f2"/>
<rect x="477" y="227" width="3" height="3" fill="#2a60f2"/>
<rect x="480" y="223" width="1" height="6" fill="#ec4842"/>
<rect x="479" y="226" width="3" height="3" fill="#ec4842"/>
<rect x="483" y="209" width="1" height="12" fill="#ec4842"/>
<rect x="482" y="211" width="3" height="7" fill="#ec4842"/>
<rect x="486" y="217" width="1" height="16" fill="#ec4842"/>
<rect x="485" y="220" width="3" height="8" fill="#ec4842"/>
<rect x="489" y="221" width="1" height="6" fill="#2a60f2"/>
<rect x="488" y="223" width="3" height="4" fill="#2a60f2"/>
<rect x="492" y="212" width="1" height="9" fill="#2a60f2"/>
<rect x="491" y="214" width="3" height="5" fill="#2a60f2"/>
<rect x="495" y="211" width="1" height="7" fill="#ec4842"/>
<rect x="494" y="212" width="3" height="1" fill="#ec4842"/>
<rect x="498" y="207" width="1" height="12" fill="#ec4842"/>
<rect x="497" y="212" width="3" height="5" fill="#ec4842"/>
<rect x="501" y="209" width="1" height="4" fill="#ec4842"/>
<rect x="500" y="211" width="3" height="2" fill="#ec4842"/>
<rect x="503" y="205" width="1" height="7" fill="#ec4842"/>
<rect x="502" y="209" width="3" height="2" fill="#ec4842"/>
<rect x="506" y="207" width="1" height="6" fill="#2a60f2"/>
<rect x="505" y="207" width="3" height="3" fill="#2a60f2"/>
<rect x="509" y="205" width="1" height="7" fill="#ec4842"/>
<rect x="508" y="206" width="3" height="4" fill="#ec4842"/>
<rect x="512" y="204" width="1" height="10" fill="#2a60f2"/>
<rect x="511" y="205" width="3" height="7" fill="#2a60f2"/>
<rect x="515" y="208" width="1" height="7" fill="#ec4842"/>
<rect x="514" y="211" width="3" height="1" fill="#ec4842"/>
<rect x="518" y="202" width="1" height="7" fill="#2a60f2"/>
<rect x="517" y="206" width="3" height="3" fill="#2a60f2"/>
<rect x="521" y="205" width="1" height="3" fill="#ec4842"/>
<rect x="520" y="206" width="3" height="1" fill="#ec4842"/>
<rect x="524" y="204" width="1" height="5" fill="#2a60f2"/>
<rect x="523" y="204" width="3" height="3" fill="#2a60f2"/>
<rect x="527" y="202" width="1" height="8" fill="#ec4842"/>
<rect x="526" y="204" width="3" height="4" fill="#ec4842"/>
<rect x="529" y="206" width="1" height="6" fill="#2a60f2"/>
<rect x="528" y="207" width="3" height="4" fill="#2a60f2"/>
<rect x="532" y="198" width="1" height="6" fill="#2a60f2"/>
<rect x="531" y="198" width="3" height="6" fill="#2a60f2"/>
<rect x="535" y="183" width="1" height="12" fill="#2a60f2"/>
<rect x="534" y="184" width="3" height="11" fill="#2a60f2"/>
<rect x="538" y="178" width="1" height="6" fill="#ec4842"/>
<rect x="537" y="180" width="3" height="2" fill="#ec4842"/>
<rect x="541" y="173" width="1" height="8" fill="#2a60f2"/>
<rect x="540" y="176" width="3" height="4" fill="#2a60f2"/>
<rect x="544" y="174" width="1" height="6" fill="#ec4842"/>
<rect x="543" y="174" width="3" height="1" fill="#ec4842"/>
<rect x="547" y="177" width="1" height="13" fill="#ec4842"/>
<rect x="546" y="179" width="3" height="7" fill="#ec4842"/>
<rect x="550" y="176" width="1" height="11" fill="#2a60f2"/>
<rect x="549" y="177" width="3" height="10" fill="#2a60f2"/>
<rect x="552" y="168" width="1" height="8" fill="#2a60f2"/>
<rect x="551" y="172" width="3" height="2" fill="#2a60f2"/>
<rect x="555" y="172" width="1" height="5" fill="#2a60f2"/>
<rect x="554" y="175" width="3" height="1" fill="#2a60f2"/>
<rect x="558" y="170" width="1" height="4" fill="#2a60f2"/>
<rect x="557" y="170" width="3" height="2" fill="#2a60f2"/>
<rect x="561" y="160" width="1" height="8" fill="#2a60f2"/>
<rect x="560" y="164" width="3" height="4" fill="#2a60f2"/>
<rect x="564" y="160" width="1" height="7" fill="#ec4842"/>
<rect x="563" y="161" width="3" height="1" fill="#ec4842"/>
<rect x="567" y="152" width="1" height="11" fill="#2a60f2"/>
<rect x="566" y="159" width="3" height="3" fill="#2a60f2"/>
<rect x="570" y="158" width="1" height="8" fill="#ec4842"/>
<rect x="569" y="158" width="3" height="3" fill="#ec4842"/>
<rect x="573" y="142" width="1" height="7" fill="#ec4842"/>
<rect x="572" y="145" width="3" height="1" fill="#ec4842"/>
<rect x="576" y="143" width="1" height="7" fill="#2a60f2"/>
<rect x="575" y="144" width="3" height="1" fill="#2a60f2"/>
<rect x="578" y="138" width="1" height="8" fill="#2a60f2"/>
<rect x="577" y="141" width="3" height="2" fill="#2a60f2"/>
<rect x="581" y="138" width="1" height="7" fill="#ec4842"/>
<rect x="580" y="139" width="3" height="3" fill="#ec4842"/>
<rect x="584" y="140" width="1" height="5" fill="#ec4842"/>
<rect x="583" y="141" width="3" height="3" fill="#ec4842"/>
<rect x="587" y="144" width="1" height="16" fill="#ec4842"/>
<rect x="586" y="144" width="3" height="10" fill="#ec4842"/>
<rect x="590" y="145" width="1" height="7" fill="#2a60f2"/>
<rect x="589" y="146" width="3" height="3" fill="#2a60f2"/>
<rect x="593" y="139" width="1" height="5" fill="#2a60f2"/>
<rect x="592" y="139" width="3" height="3" fill="#2a60f2"/>
<rect x="596" y="137" width="1" height="4" fill="#ec4842"/>
<rect x="595" y="139" width="3" height="1" fill="#ec4842"/>
<rect x="599" y="131" width="1" height="7" fill="#2a60f2"/>
<rect x="598" y="132" width="3" height="6" fill="#2a60f2"/>
<rect x="601" y="126" width="1" height="10" fill="#ec4842"/>
<rect x="600" y="129" width="3" height="6" fill="#ec4842"/>
<rect x="604" y="125" width="1" height="9" fill="#2a60f2"/>
<rect x="603" y="126" width="3" height="6" fill="#2a60f2"/>
<rect x="607" y="117" width="1" height="17" fill="#ec4842"/>
<rect x="606" y="118" width="3" height="11" fill="#ec4842"/>
<rect x="610" y="132" width="1" height="13" fill="#ec4842"/>
<rect x="609" y="138" width="3" height="1" fill="#ec4842"/>
<rect x="613" y="124" width="1" height="13" fill="#2a60f2"/>
<rect x="612" y="124" width="3" height="12" fill="#2a60f2"/>
<rect x="616" y="124" width="1" height="10" fill="#ec4842"/>
<rect x="615" y="125" width="3" height="3" fill="#ec4842"/>
<rect x="619" y="125" width="1" height="8" fill="#2a60f2"/>
<rect x="618" y="126" width="3" height="7" fill="#2a60f2"/>
<rect x="622" y="115" width="1" height="12" fill="#ec4842"/>
<rect x="621" y="121" width="3" height="2" fill="#ec4842"/>
<rect x="625" y="117" width="1" height="6" fill="#2a60f2"/>
<rect x="624" y="118" width="3" height="3" fill="#2a60f2"/>
<rect x="627" y="116" width="1" height="8" fill="#ec4842"/>
<rect x="626" y="119" width="3" height="1" fill="#ec4842"/>
<rect x="630" y="114" width="1" height="12" fill="#2a60f2"/>
<rect x="629" y="117" width="3" height="1" fill="#2a60f2"/>
<rect x="633" y="115" width="1" height="11" fill="#ec4842"/>
<rect x="632" y="118" width="3" height="3" fill="#ec4842"/>
<rect x="636" y="117" width="1" height="9" fill="#2a60f2"/>
<rect x="635" y="120" width="3" height="5" fill="#2a60f2"/>
<rect x="639" y="120" width="1" height="9" fill="#ec4842"/>
<rect x="638" y="120" width="3" height="3" fill="#ec4842"/>
<rect x="642" y="118" width="1" height="5" fill="#2a60f2"/>
<rect x="641" y="120" width="3" height="3" fill="#2a60f2"/>
<rect x="645" y="119" width="1" height="16" fill="#ec4842"/>
<rect x="644" y="119" width="3" height="15" fill="#ec4842"/>
<rect x="648" y="134" width="1" height="16" fill="#2a60f2"/>
<rect x="647" y="135" width="3" height="1" fill="#2a60f2"/>
<rect x="650" y="132" width="1" height="7" fill="#2a60f2"/>
<rect x="649" y="136" width="3" height="1" fill="#2a60f2"/>
<rect x="653" y="128" width="1" height="17" fill="#2a60f2"/>
<rect x="652" y="129" width="3" height="12" fill="#2a60f2"/>
<rect x="656" y="120" width="1" height="12" fill="#2a60f2"/>
<rect x="655" y="125" width="3" height="3" fill="#2a60f2"/>
<rect x="659" y="119" width="1" height="8" fill="#2a60f2"/>
<rect x="658" y="120" width="3" height="4" fill="#2a60f2"/>
<rect x="662" y="119" width="1" height="7" fill="#ec4842"/>
<rect x="661" y="120" width="3" height="1" fill="#ec4842"/>
<rect x="665" y="114" width="1" height="19" fill="#ec4842"/>
<rect x="664" y="123" width="3" height="1" fill="#ec4842"/>
<rect x="668" y="129" width="1" height="11" fill="#ec4842"/>
<rect x="667" y="129" width="3" height="9" fill="#ec4842"/>
<rect x="671" y="142" width="1" height="12" fill="#2a60f2"/>
<rect x="670" y="146" width="3" height="1" fill="#2a60f2"/>
<rect x="674" y="142" width="1" height="6" fill="#ec4842"/>
<rect x="673" y="145" width="3" height="1" fill="#ec4842"/>
<rect x="676" y="143" width="1" height="6" fill="#2a60f2"/>
<rect x="675" y="144" width="3" height="2" fill="#2a60f2"/>
<rect x="679" y="150" width="1" height="11" fill="#ec4842"/>
<rect x="678" y="152" width="3" height="2" fill="#ec4842"/>
<rect x="682" y="145" width="1" height="9" fill="#2a60f2"/>
<rect x="681" y="151" width="3" height="2" fill="#2a60f2"/>
<rect x="685" y="145" width="1" height="10" fill="#2a60f2"/>
<rect x="684" y="146" width="3" height="4" fill="#2a60f2"/>
<rect x="688" y="126" width="1" height="9" fill="#2a60f2"/>
<rect x="687" y="131" width="3" height="1" fill="#2a60f2"/>
<rect x="691" y="124" width="1" height="9" fill="#ec4842"/>
<rect x="690" y="125" width="3" height="6" fill="#ec4842"/>
<rect x="694" y="128" width="1" height="5" fill="#2a60f2"/>
<rect x="693" y="129" width="3" height="1" fill="#2a60f2"/>
<rect x="697" y="127" width="1" height="10" fill="#2a60f2"/>
<rect x="696" y="130" width="3" height="4" fill="#2a60f2"/>
<rect x="699" y="130" width="1" height="7" fill="#ec4842"/>
<rect x="698" y="131" width="3" height="5" fill="#ec4842"/>
<rect x="702" y="140" width="1" height="11" fill="#ec4842"/>
<rect x="701" y="141" width="3" height="6" fill="#ec4842"/>
<rect x="705" y="131" width="1" height="10" fill="#2a60f2"/>
<rect x="704" y="133" width="3" height="5" fill="#2a60f2"/>
<rect x="708" y="129" width="1" height="7" fill="#2a60f2"/>
<rect x="707" y="132" width="3" height="2" fill="#2a60f2"/>
<rect x="711" y="114" width="1" height="23" fill="#2a60f2"/>
<rect x="710" y="116" width="3" height="19" fill="#2a60f2"/>
<rect x="714" y="119" width="1" height="14" fill="#ec4842"/>
<rect x="713" y="120" width="3" height="8" fill="#ec4842"/>
<rect x="717" y="125" width="1" height="10" fill="#ec4842"/>
<rect x="716" y="125" width="3" height="6" fill="#ec4842"/>
<rect x="720" y="124" width="1" height="16" fill="#2a60f2"/>
<rect x="719" y="130" width="3" height="7" fill="#2a60f2"/>
<rect x="723" y="125" width="1" height="11" fill="#2a60f2"/>
<rect x="722" y="129" width="3" height="1" fill="#2a60f2"/>
<rect x="725" y="115" width="1" height="9" fill="#2a60f2"/>
<rect x="724" y="120" width="3" height="3" fill="#2a60f2"/>
<rect x="728" y="107" width="1" height="14" fill="#2a60f2"/>
<rect x="727" y="109" width="3" height="11" fill="#2a60f2"/>
<rect x="731" y="106" width="1" height="9" fill="#2a60f2"/>
<rect x="730" y="108" width="3" height="4" fill="#2a60f2"/>
<rect x="734" y="99" width="1" height="7" fill="#ec4842"/>
<rect x="733" y="102" width="3" height="2" fill="#ec4842"/>
<rect x="737" y="101" width="1" height="11" fill="#ec4842"/>
<rect x="736" y="103" width="3" height="4" fill="#ec4842"/>
<rect x="740" y="108" width="1" height="9" fill="#2a60f2"/>
<rect x="739" y="112" width="3" height="1" fill="#2a60f2"/>
<rect x="743" y="104" width="1" height="11" fill="#ec4842"/>
<rect x="742" y="110" width="3" height="3" fill="#ec4842"/>
<rect x="746" y="102" width="1" height="7" fill="#2a60f2"/>
<rect x="745" y="103" width="3" height="6" fill="#2a60f2"/>
<rect x="748" y="89" width="1" height="10" fill="#2a60f2"/>
<rect x="747" y="95" width="3" height="1" fill="#2a60f2"/>
<rect x="751" y="88" width="1" height="32" fill="#ec4842"/>
<rect x="750" y="93" width="3" height="24" fill="#ec4842"/>
<rect x="754" y="101" width="1" height="10" fill="#2a60f2"/>
<rect x="753" y="105" width="3" height="1" fill="#2a60f2"/>
<rect x="757" y="113" width="1" height="12" fill="#ec4842"/>
<rect x="756" y="113" width="3" height="11" fill="#ec4842"/>
<rect x="760" y="113" width="1" height="18" fill="#ec4842"/>
<rect x="759" y="113" width="3" height="12" fill="#ec4842"/>
<rect x="763" y="117" width="1" height="8" fill="#ec4842"/>
<rect x="762" y="119" width="3" height="1" fill="#ec4842"/>
<rect x="766" y="115" width="1" height="10" fill="#2a60f2"/>
<rect x="765" y="117" width="3" height="7" fill="#2a60f2"/>
<rect x="769" y="112" width="1" height="8" fill="#ec4842"/>
<rect x="768" y="117" width="3" height="1" fill="#ec4842"/>
<rect x="772" y="118" width="1" height="7" fill="#ec4842"/>
<rect x="771" y="118" width="3" height="4" fill="#ec4842"/>
<rect x="774" y="116" width="1" height="16" fill="#ec4842"/>
<rect x="773" y="122" width="3" height="2" fill="#ec4842"/>
<rect x="777" y="117" width="1" height="8" fill="#2a60f2"/>
<rect x="776" y="119" width="3" height="4" fill="#2a60f2"/>
<rect x="780" y="107" width="1" height="9" fill="#2a60f2"/>
<rect x="779" y="110" width="3" height="6" fill="#2a60f2"/>
<rect x="783" y="97" width="1" height="8" fill="#2a60f2"/>
<rect x="782" y="98" width="3" height="3" fill="#2a60f2"/>
<rect x="786" y="71" width="1" height="26" fill="#2a60f2"/>
<rect x="785" y="76" width="3" height="18" fill="#2a60f2"/>
<rect x="789" y="50" width="1" height="17" fill="#ec4842"/>
<rect x="788" y="60" width="3" height="2" fill="#ec4842"/>
<rect x="792" y="64" width="1" height="11" fill="#ec4842"/>
<rect x="791" y="66" width="3" height="6" fill="#ec4842"/>
<rect x="795" y="60" width="1" height="14" fill="#ec4842"/>
<rect x="794" y="63" width="3" height="10" fill="#ec4842"/>
<rect x="797" y="52" width="1" height="13" fill="#ec4842"/>
<rect x="796" y="60" width="3" height="2" fill="#ec4842"/>
<rect x="800" y="69" width="1" height="14" fill="#ec4842"/>
<rect x="799" y="71" width="3" height="10" fill="#ec4842"/>
<rect x="803" y="72" width="1" height="19" fill="#ec4842"/>
<rect x="802" y="81" width="3" height="8" fill="#ec4842"/>
<rect x="806" y="84" width="1" height="26" fill="#ec4842"/>
<rect x="805" y="87" width="3" height="19" fill="#ec4842"/>
<rect x="809" y="105" width="1" height="22" fill="#2a60f2"/>
<rect x="808" y="106" width="3" height="7" fill="#2a60f2"/>
<rect x="812" y="78" width="1" height="15" fill="#2a60f2"/>
<rect x="811" y="80" width="3" height="10" fill="#2a60f2"/>
<rect x="815" y="89" width="1" height="9" fill="#ec4842"/>
<rect x="814" y="89" width="3" height="5" fill="#ec4842"/>
<rect x="818" y="88" width="1" height="11" fill="#ec4842"/>
<rect x="817" y="88" width="3" height="5" fill="#ec4842"/>
<rect x="821" y="98" width="1" height="18" fill="#ec4842"/>
<rect x="820" y="99" width="3" height="10" fill="#ec4842"/>
<rect x="823" y="99" width="1" height="24" fill="#2a60f2"/>
<rect x="822" y="101" width="3" height="17" fill="#2a60f2"/>
<rect x="826" y="104" width="1" height="10" fill="#2a60f2"/>
<rect x="825" y="109" width="3" height="2" fill="#2a60f2"/>
<rect x="829" y="113" width="1" height="12" fill="#ec4842"/>
<rect x="828" y="117" width="3" height="4" fill="#ec4842"/>
<rect x="832" y="106" width="1" height="12" fill="#2a60f2"/>
<rect x="831" y="109" width="3" height="4" fill="#2a60f2"/>
</g>
<polyline points="2.5,272.3 5.4,272.3 8.3,272.1 11.1,272.4 14.0,272.6 16.9,272.2 19.8,271.6 22.7,270.9 25.6,269.9 28.4,268.6 31.3,267.8 34.2,266.6 37.1,265.2 40.0,263.8 42.8,262.3 45.7,260.6 48.6,259.0 51.5,257.2 54.4,255.6 57.3,254.6 60.1,253.5 63.0,252.7 65.9,251.9 68.8,251.4 71.7,250.9 74.6,250.7 77.4,250.1 80.3,249.8 83.2,249.2 86.1,248.4 89.0,247.3 91.8,245.9 94.7,244.8 97.6,242.9 100.5,241.0 103.4,239.2 106.3,237.4 109.1,235.9 112.0,234.1 114.9,232.7 117.8,231.5 120.7,230.4 123.5,229.5 126.4,228.5 129.3,227.5 132.2,226.6 135.1,225.5 138.0,224.4 140.8,223.3 143.7,222.3 146.6,221.5 149.5,220.7 152.4,220.1 155.3,219.0 158.1,218.2 161.0,217.6 163.9,217.3 166.8,217.2 169.7,217.4 172.5,217.5 175.4,217.5 178.3,217.3 181.2,217.2 184.1,216.8 187.0,216.7 189.8,216.7 192.7,216.9 195.6,217.1 198.5,217.1 201.4,216.6 204.2,216.6 207.1,216.7 210.0,216.9 212.9,217.3 215.8,217.6 218.7,217.5 221.5,217.5 224.4,217.5 227.3,217.4 230.2,217.4 233.1,217.4 236.0,217.7 238.8,218.9 241.7,219.8 244.6,220.8 247.5,221.8 250.4,222.9 253.2,223.9 256.1,225.2 259.0,226.2 261.9,227.0 264.8,227.6 267.7,227.7 270.5,227.9 273.4,228.1 276.3,228.2 279.2,228.2 282.1,228.3 284.9,228.5 287.8,228.8 290.7,229.1 293.6,229.5 296.5,229.9 299.4,230.3 302.2,231.1 305.1,231.5 308.0,232.3 310.9,233.0 313.8,233.5 316.6,234.5 319.5,235.5 322.4,237.0 325.3,238.4 328.2,239.6 331.1,240.5 333.9,241.3 336.8,242.0 339.7,243.0 342.6,244.2 345.5,245.7 348.4,246.7 351.2,247.6 354.1,248.3 357.0,249.2 359.9,250.1 362.8,251.3 365.6,252.5 368.5,253.8 371.4,255.2 374.3,257.3 377.2,259.7 380.1,261.8 382.9,262.8 385.8,263.5 388.7,264.2 391.6,264.8 394.5,265.3 397.3,265.5 400.2,266.1 403.1,267.2 406.0,268.7 408.9,270.1 411.8,271.5 414.6,272.7 417.5,273.7 420.4,274.9 423.3,276.3 426.2,277.7 429.1,278.9 431.9,280.1 434.8,281.1 437.7,281.8 440.6,282.3 443.5,282.9 446.3,283.1 449.2,283.2 452.1,282.4 455.0,281.5 457.9,280.7 460.8,279.6 463.6,278.5 466.5,277.3 469.4,276.2 472.3,275.4 475.2,274.7 478.0,274.1 480.9,273.4 483.8,272.3 486.7,271.5 489.6,270.6 492.5,269.5 495.3,268.6 498.2,267.7 501.1,266.4 504.0,264.9 506.9,263.4 509.7,261.8 512.6,260.2 515.5,258.7 518.4,256.7 521.3,254.4 524.2,252.2 527.0,250.0 529.9,248.7 532.8,246.8 535.7,244.8 538.6,242.8 541.5,240.7 544.3,238.2 547.2,235.8 550.1,233.0 553.0,230.2 555.9,227.7 558.7,225.2 561.6,222.8 564.5,220.3 567.4,217.7 570.3,215.1 573.2,212.4 576.0,209.8 578.9,207.1 581.8,204.4 584.7,201.9 587.6,199.6 590.4,197.1 593.3,194.7 596.2,192.7 599.1,190.8 602.0,188.9 604.9,186.9 607.7,185.0 610.6,183.2 613.5,180.9 616.4,178.8 619.3,176.6 622.2,174.5 625.0,172.3 627.9,170.3 630.8,168.1 633.7,166.1 636.6,164.2 639.4,162.4 642.3,160.5 645.2,158.9 648.1,157.4 651.0,156.0 653.9,154.4 656.7,152.8 659.6,150.9 662.5,149.2 665.4,147.6 668.3,146.2 671.1,145.0 674.0,143.8 676.9,142.7 679.8,142.1 682.7,141.5 685.6,140.9 688.4,140.0 691.3,138.9 694.2,138.0 697.1,137.1 700.0,136.3 702.9,135.9 705.7,135.2 708.6,134.7 711.5,133.8 714.4,133.1 717.3,132.9 720.1,132.6 723.0,132.3 725.9,131.9 728.8,131.2 731.7,130.3 734.6,129.4 737.4,128.8 740.3,128.2 743.2,127.8 746.1,127.2 749.0,126.6 751.8,126.4 754.7,125.7 757.6,125.7 760.5,125.6 763.4,125.5 766.3,125.4 769.1,125.4 772.0,125.4 774.9,125.6 777.8,125.5 780.7,125.3 783.5,124.8 786.4,124.0 789.3,122.5 792.2,121.2 795.1,120.0 798.0,118.6 800.8,117.8 803.7,117.2 806.6,116.9 809.5,116.5 812.4,115.3 815.3,114.3 818.1,113.2 821.0,112.5 823.9,111.5 826.8,110.6 829.7,110.1 832.5,109.7" fill="none" stroke="#5b52e0" stroke-width="1.3" stroke-linejoin="round"/>
<line x1="0" x2="1111" y1="52.5" y2="52.5" stroke="#b8394b" stroke-width="1"/>
<line x1="0" x2="1111" y1="86.5" y2="86.5" stroke="#eaa24e" stroke-width="1" stroke-dasharray="1 2"/>
<line x1="0" x2="1111" y1="119.5" y2="119.5" stroke="#1f8f7c" stroke-width="1.1"/>
<line x1="679.7" y1="160.4" x2="913" y2="99.2" stroke="#15171c" stroke-width="1.15"/>
<g id="wm">
<g filter="url(#b2)" fill="#ffffff" stroke="#ffffff" stroke-linejoin="round" font-family="'DejaVu Sans', 'Liberation Sans', sans-serif" font-size="44.6">
<text transform="scale(1.1 1)" x="43.36 69.18 91.45 117.40 142.99 168.31 208.80 218.72 242.49" y="268.4" stroke-width="7">economies</text>
<text transform="scale(1.1 1)" x="43.36 69.18 91.45 117.40 142.99 168.31 208.80 218.72 242.49" y="268.4" stroke-width="3">economies</text>
</g>
<g filter="url(#b1e)" font-family="'DejaVu Sans', 'Liberation Sans', sans-serif" font-size="44.6">
<text transform="scale(1.1 1)" x="43.36 69.18 91.45 117.40 142.99 168.31 208.80 218.72 242.49" y="268.4" fill="#fbcfae" stroke="#fbcfae" stroke-width="0.6">economies</text>
</g>
<g filter="url(#b1)" font-family="'DejaVu Sans', 'Liberation Sans', sans-serif" font-size="44.6" stroke-linejoin="round">
<text transform="scale(0.97 1)" x="305.31 313.72 336.71 363.58" y="268.4" font-weight="200" fill="#a9a9a9" stroke="#a9a9a9" stroke-width="1.1" opacity="0.6">.com</text>
</g>
<g filter="url(#b2)" fill="#ffffff" stroke="#ffffff" stroke-width="3" opacity="0.55" font-family="'Liberation Sans', sans-serif">
<text x="89" y="309" font-size="42" font-weight="bold">F</text>
<text x="137" y="309" font-size="42" textLength="209" lengthAdjust="spacingAndGlyphs">NewsToday</text>
</g>
<g filter="url(#b1)" font-family="'Liberation Sans', sans-serif" fill="#a6a6a6" opacity="0.55">
<text x="89" y="309" font-size="42" font-weight="bold" fill="#b4b4b4" textLength="19" lengthAdjust="spacingAndGlyphs">F</text>
<text x="137" y="309" font-size="42" textLength="209" lengthAdjust="spacingAndGlyphs"><tspan font-weight="bold" fill="#a2a2a2">N</tspan>ews<tspan font-weight="bold" fill="#a2a2a2">T</tspan>oday</text>
</g>
<g filter="url(#b1)">
<path d="M113.5 287.5 L123 294.5 L129 288" fill="none" stroke="#ecb0b0" stroke-width="3" stroke-linecap="round" stroke-linejoin="round"/>
<path d="M114.5 304.5 L124.5 296.5 L134 303.5" fill="none" stroke="#b9dec9" stroke-width="3" stroke-linecap="round" stroke-linejoin="round"/>
</g>
</g>
<g opacity="0.92" shape-rendering="crispEdges"><rect x="241" y="242" width="1" height="29" fill="#2a60f2"/><rect x="240" y="242" width="3" height="17" fill="#2a60f2"/></g>
<line x1="0" x2="1177" y1="369.5" y2="369.5" stroke="#e0e3eb" stroke-width="1"/>
<line x1="2" x2="1177" y1="472.5" y2="472.5" stroke="#e8e9ed" stroke-width="1"/>
<g clip-path="url(#stclip)">
<polyline points="2.5,377.5 5.4,382.1 8.3,388.5 11.1,405.5 14.0,413.6 16.9,411.5 19.8,394.8 22.7,382.0 25.6,377.8 28.4,378.0 31.3,378.0 34.2,378.0 37.1,377.5 40.0,387.9 42.8,394.5 45.7,400.1 48.6,394.4 51.5,388.0 54.4,383.1 57.3,390.8 60.1,402.5 63.0,411.8 65.9,412.6 68.8,412.5 71.7,421.1 74.6,427.7 77.4,432.2 80.3,429.3 83.2,420.3 86.1,409.0 89.0,395.9 91.8,389.3 94.7,391.0 97.6,392.1 100.5,395.1 103.4,394.9 106.3,406.5 109.1,417.3 112.0,419.7 114.9,416.7 117.8,409.7 120.7,419.9 123.5,427.7 126.4,435.6 129.3,436.0 132.2,432.0 135.1,428.5 138.0,420.6 140.8,409.7 143.7,397.2 146.6,393.5 149.5,403.5 152.4,420.5 155.3,424.3 158.1,424.1 161.0,424.1 163.9,432.0 166.8,437.1 169.7,437.1 172.5,434.0 175.4,424.3 178.3,408.0 181.2,394.0 184.1,384.3 187.0,386.4 189.8,388.6 192.7,398.3 195.6,395.7 198.5,390.9 201.4,380.6 204.2,386.7 207.1,395.8 210.0,410.2 212.9,420.9 215.8,431.6 218.7,431.8 221.5,429.1 224.4,421.8 227.3,416.7 230.2,403.3 233.1,394.5 236.0,394.4 238.8,410.4 241.7,419.1 244.6,424.7 247.5,419.2 250.4,423.2 253.2,426.3 256.1,428.4 259.0,424.0 261.9,415.4 264.8,407.6 267.7,401.8 270.5,399.1 273.4,394.7 276.3,388.5 279.2,381.8 282.1,377.5 284.9,377.7 287.8,377.7 290.7,384.3 293.6,395.9 296.5,415.7 299.4,421.9 302.2,429.9 305.1,424.6 308.0,431.8 310.9,429.9 313.8,432.1 316.6,432.1 319.5,431.9 322.4,435.0 325.3,433.3 328.2,424.2 331.1,411.1 333.9,393.0 336.8,386.8 339.7,386.9 342.6,391.1 345.5,391.4 348.4,388.3 351.2,384.1 354.1,382.3 357.0,387.9 359.9,399.8 362.8,414.6 365.6,425.0 368.5,428.9 371.4,428.4 374.3,428.4 377.2,432.4 380.1,432.8 382.9,429.4 385.8,409.5 388.7,398.5 391.6,384.3 394.5,386.6 397.3,383.2 400.2,387.7 403.1,394.0 406.0,404.1 408.9,406.9 411.8,404.5 414.6,396.1 417.5,386.6 420.4,382.6 423.3,382.3 426.2,385.2 429.1,383.0 431.9,380.3 434.8,378.5 437.7,379.9 440.6,379.9 443.5,378.9 446.3,378.7 449.2,378.7 452.1,378.7 455.0,377.5 457.9,378.2 460.8,378.6 463.6,378.9 466.5,380.9 469.4,388.6 472.3,395.4 475.2,403.1 478.0,401.8 480.9,403.3 483.8,396.5 486.7,409.5 489.6,416.4 492.5,421.9 495.3,409.3 498.2,408.5 501.1,411.0 504.0,410.2 506.9,398.4 509.7,396.6 512.6,393.7 515.5,410.5 518.4,413.0 521.3,424.5 524.2,414.2 527.0,422.0 529.9,425.6 532.8,421.2 535.7,401.3 538.6,382.7 541.5,377.5 544.3,377.5 547.2,392.8 550.1,402.7 553.0,409.9 555.9,405.2 558.7,403.6 561.6,401.0 564.5,393.7 567.4,387.8 570.3,390.1 573.2,386.8 576.0,384.5 578.9,377.5 581.8,379.8 584.7,386.0 587.6,405.9 590.4,418.1 593.3,422.7 596.2,414.3 599.1,407.5 602.0,408.3 604.9,403.9 607.7,407.8 610.6,416.1 613.5,421.6 616.4,426.5 619.3,421.2 622.2,420.0 625.0,411.3 627.9,406.7 630.8,403.4 633.7,409.8 636.6,413.1 639.4,424.4 642.3,426.1 645.2,432.7 648.1,433.2 651.0,437.1 653.9,431.8 656.7,423.6 659.6,412.4 662.5,406.9 665.4,407.7 668.3,418.9 671.1,429.7 674.0,437.1 676.9,435.3 679.8,435.3 682.7,433.1 685.6,428.8 688.4,414.1 691.3,401.9 694.2,392.8 697.1,392.4 700.0,395.9 702.9,405.3 705.7,403.9 708.6,397.6 711.5,383.5 714.4,386.5 717.3,391.7 720.1,399.7 723.0,402.2 725.9,398.0 728.8,390.0 731.7,381.2 734.6,377.5 737.4,379.6 740.3,385.2 743.2,395.6 746.1,396.6 749.0,391.1 751.8,400.3 754.7,409.5 757.6,429.3 760.5,429.5 763.4,434.7 766.3,430.6 769.1,427.3 772.0,428.4 774.9,432.3 777.8,432.7 780.7,425.6 783.5,411.4 786.4,394.5 789.3,383.1 792.2,382.2 795.1,387.4 798.0,390.1 800.8,396.6 803.7,405.8 806.6,422.8 809.5,431.2 812.4,429.1 815.3,426.0 818.1,422.6 821.0,430.2 823.9,431.2 826.8,434.9 829.7,434.9 832.5,433.5" fill="none" stroke="#2962ff" stroke-width="1.15" stroke-linejoin="round"/>
<polyline points="2.5,381.1 5.4,380.2 8.3,382.7 11.1,392.1 14.0,402.6 16.9,410.2 19.8,406.6 22.7,396.1 25.6,384.9 28.4,379.3 31.3,377.9 34.2,378.0 37.1,377.8 40.0,381.1 42.8,386.6 45.7,394.1 48.6,396.3 51.5,394.2 54.4,388.5 57.3,387.3 60.1,392.1 63.0,401.7 65.9,409.0 68.8,412.3 71.7,415.4 74.6,420.4 77.4,427.0 80.3,429.7 83.2,427.3 86.1,419.5 89.0,408.4 91.8,398.1 94.7,392.1 97.6,390.8 100.5,392.7 103.4,394.0 106.3,398.8 109.1,406.2 112.0,414.5 114.9,417.9 117.8,415.3 120.7,415.4 123.5,419.1 126.4,427.7 129.3,433.1 132.2,434.5 135.1,432.2 138.0,427.1 140.8,419.6 143.7,409.2 146.6,400.2 149.5,398.1 152.4,405.9 155.3,416.1 158.1,423.0 161.0,424.1 163.9,426.7 166.8,431.1 169.7,435.4 172.5,436.1 175.4,431.8 178.3,422.1 181.2,408.8 184.1,395.4 187.0,388.2 189.8,386.4 192.7,391.1 195.6,394.2 198.5,395.0 201.4,389.1 204.2,386.1 207.1,387.7 210.0,397.6 212.9,409.0 215.8,420.9 218.7,428.1 221.5,430.8 224.4,427.6 227.3,422.5 230.2,414.0 233.1,404.8 236.0,397.4 238.8,399.7 241.7,407.9 244.6,418.0 247.5,421.0 250.4,422.4 253.2,422.9 256.1,426.0 259.0,426.2 261.9,422.6 264.8,415.6 267.7,408.2 270.5,402.8 273.4,398.5 276.3,394.1 279.2,388.4 282.1,382.6 284.9,379.0 287.8,377.6 290.7,379.9 293.6,385.9 296.5,398.6 299.4,411.2 302.2,422.5 305.1,425.4 308.0,428.8 310.9,428.8 313.8,431.3 316.6,431.4 319.5,432.0 322.4,433.0 325.3,433.4 328.2,430.8 331.1,422.9 333.9,409.4 336.8,397.0 339.7,388.9 342.6,388.3 345.5,389.8 348.4,390.3 351.2,387.9 354.1,384.9 357.0,384.8 359.9,390.0 362.8,400.7 365.6,413.1 368.5,422.8 371.4,427.4 374.3,428.6 377.2,429.7 380.1,431.2 382.9,431.5 385.8,423.9 388.7,412.5 391.6,397.4 394.5,389.8 397.3,384.7 400.2,385.8 403.1,388.3 406.0,395.3 408.9,401.7 411.8,405.2 414.6,402.5 417.5,395.7 420.4,388.4 423.3,383.9 426.2,383.4 429.1,383.5 431.9,382.8 434.8,380.6 437.7,379.6 440.6,379.4 443.5,379.5 446.3,379.2 449.2,378.8 452.1,378.7 455.0,378.3 457.9,378.2 460.8,378.1 463.6,378.6 466.5,379.5 469.4,382.8 472.3,388.3 475.2,395.7 478.0,400.1 480.9,402.7 483.8,400.5 486.7,403.1 489.6,407.5 492.5,415.9 495.3,415.9 498.2,413.2 501.1,409.6 504.0,409.9 506.9,406.5 509.7,401.7 512.6,396.2 515.5,400.3 518.4,405.7 521.3,416.0 524.2,417.2 527.0,420.2 529.9,420.6 532.8,422.9 535.7,416.0 538.6,401.7 541.5,387.2 544.3,379.2 547.2,382.6 550.1,391.0 553.0,401.8 555.9,405.9 558.7,406.2 561.6,403.3 564.5,399.4 567.4,394.2 570.3,390.5 573.2,388.2 576.0,387.1 578.9,382.9 581.8,380.6 584.7,381.1 587.6,390.6 590.4,403.4 593.3,415.6 596.2,418.4 599.1,414.8 602.0,410.0 604.9,406.6 607.7,406.7 610.6,409.2 613.5,415.1 616.4,421.4 619.3,423.1 622.2,422.6 625.0,417.5 627.9,412.7 630.8,407.2 633.7,406.7 636.6,408.8 639.4,415.8 642.3,421.2 645.2,427.7 648.1,430.7 651.0,434.3 653.9,434.0 656.7,430.8 659.6,422.6 662.5,414.3 665.4,409.0 668.3,411.2 671.1,418.8 674.0,428.5 676.9,434.0 679.8,435.9 682.7,434.6 685.6,432.4 688.4,425.3 691.3,414.9 694.2,403.0 697.1,395.7 700.0,393.7 702.9,397.9 705.7,401.7 708.6,402.3 711.5,395.0 714.4,389.2 717.3,387.2 720.1,392.6 723.0,397.9 725.9,400.0 728.8,396.7 731.7,389.7 734.6,382.9 737.4,379.5 740.3,380.8 743.2,386.8 746.1,392.5 749.0,394.4 751.8,396.0 754.7,400.3 757.6,413.0 760.5,422.8 763.4,431.2 766.3,431.6 769.1,430.9 772.0,428.8 774.9,429.3 777.8,431.1 780.7,430.2 783.5,423.2 786.4,410.5 789.3,396.3 792.2,386.6 795.1,384.2 798.0,386.6 800.8,391.4 803.7,397.5 806.6,408.4 809.5,419.9 812.4,427.7 815.3,428.8 818.1,425.9 821.0,426.3 823.9,428.0 826.8,432.1 829.7,433.6 832.5,434.4" fill="none" stroke="#f57c1f" stroke-width="1.15" stroke-linejoin="round"/>
</g>
<rect x="0" y="408" width="176.3" height="36" fill="#ffffff"/>
<text x="1120.5" y="82.1" font-family="'Liberation Sans', sans-serif" font-size="12" fill="#131722" text-anchor="start" textLength="35" lengthAdjust="spacingAndGlyphs">200.00</text>
<text x="1120.5" y="174.8" font-family="'Liberation Sans', sans-serif" font-size="12" fill="#131722" text-anchor="start" textLength="35" lengthAdjust="spacingAndGlyphs">160.00</text>
<text x="1120.5" y="220.9" font-family="'Liberation Sans', sans-serif" font-size="12" fill="#131722" text-anchor="start" textLength="35" lengthAdjust="spacingAndGlyphs">140.00</text>
<text x="1120.5" y="267.0" font-family="'Liberation Sans', sans-serif" font-size="12" fill="#131722" text-anchor="start" textLength="35" lengthAdjust="spacingAndGlyphs">120.00</text>
<text x="1120.5" y="313.1" font-family="'Liberation Sans', sans-serif" font-size="12" fill="#131722" text-anchor="start" textLength="35" lengthAdjust="spacingAndGlyphs">100.00</text>
<text x="1120.5" y="359.2" font-family="'Liberation Sans', sans-serif" font-size="12" fill="#131722" text-anchor="start" textLength="29" lengthAdjust="spacingAndGlyphs">80.00</text>
<text x="1120.5" y="381.8" font-family="'Liberation Sans', sans-serif" font-size="12" fill="#131722" text-anchor="start" textLength="35" lengthAdjust="spacingAndGlyphs">100.00</text>
<text x="1120.2" y="441.8" font-family="'Liberation Sans', sans-serif" font-size="12" fill="#131722" text-anchor="start" textLength="23" lengthAdjust="spacingAndGlyphs">0.00</text>
<rect x="1112" y="44" width="49" height="17" rx="2" fill="#f23645"/>
<text x="1120" y="56.7" font-family="'Liberation Sans', sans-serif" font-size="12" fill="#ffffff" text-anchor="start" font-weight="bold" textLength="35.7" lengthAdjust="spacingAndGlyphs">211.34</text>
<path d="M1114 101.2 H1159 Q1161 101.2 1161 103.2 V118 H1112 V103.2 Q1112 101.2 1114 101.2 Z" fill="#2962ff"/>
<text x="1120" y="113.8" font-family="'Liberation Sans', sans-serif" font-size="12" fill="#ffffff" text-anchor="start" font-weight="bold" textLength="35.7" lengthAdjust="spacingAndGlyphs">186.52</text>
<path d="M1112 118 H1161 V132.8 Q1161 134.8 1159 134.8 H1114 Q1112 134.8 1112 132.8 Z" fill="#089981"/>
<text x="1120" y="130.9" font-family="'Liberation Sans', sans-serif" font-size="12" fill="#ffffff" text-anchor="start" font-weight="bold" textLength="35.7" lengthAdjust="spacingAndGlyphs">182.39</text>
<rect x="1115.5" y="6.5" width="57" height="25" rx="4" fill="#ffffff" stroke="#eaebef" stroke-width="1"/>
<text x="1119.4" y="22.7" font-family="'Liberation Sans', sans-serif" font-size="12" fill="#131722" text-anchor="start" textLength="20.6" lengthAdjust="spacingAndGlyphs">USD</text>
<path d="M1163.4 18.5 L1165.6 20.5 L1167.8 18.5" fill="none" stroke="#131722" stroke-width="1.3" stroke-linecap="round" stroke-linejoin="round"/>
<text x="1.8" y="461.6" font-family="'Liberation Sans', sans-serif" font-size="12" fill="#131722" text-anchor="start" textLength="17.8" lengthAdjust="spacingAndGlyphs">Oct</text>
<text x="67.5" y="461.6" font-family="'Liberation Sans', sans-serif" font-size="12" fill="#131722" text-anchor="start" textLength="19.8" lengthAdjust="spacingAndGlyphs">Nov</text>
<text x="125.2" y="461.6" font-family="'Liberation Sans', sans-serif" font-size="12" fill="#131722" text-anchor="start" textLength="19.8" lengthAdjust="spacingAndGlyphs">Dec</text>
<text x="182.0" y="461.6" font-family="'Liberation Sans', sans-serif" font-size="12" fill="#131722" text-anchor="start" font-weight="bold" textLength="27.2" lengthAdjust="spacingAndGlyphs">2025</text>
<text x="243.8" y="461.6" font-family="'Liberation Sans', sans-serif" font-size="12" fill="#131722" text-anchor="start" textLength="18.8" lengthAdjust="spacingAndGlyphs">Feb</text>
<text x="298.5" y="461.6" font-family="'Liberation Sans', sans-serif" font-size="12" fill="#131722" text-anchor="start" textLength="19.1" lengthAdjust="spacingAndGlyphs">Mar</text>
<text x="359.5" y="461.6" font-family="'Liberation Sans', sans-serif" font-size="12" fill="#131722" text-anchor="start" textLength="18" lengthAdjust="spacingAndGlyphs">Apr</text>
<text x="418.5" y="461.6" font-family="'Liberation Sans', sans-serif" font-size="12" fill="#131722" text-anchor="start" textLength="21.1" lengthAdjust="spacingAndGlyphs">May</text>
<text x="480.4" y="461.6" font-family="'Liberation Sans', sans-serif" font-size="12" fill="#131722" text-anchor="start" textLength="18.3" lengthAdjust="spacingAndGlyphs">Jun</text>
<text x="539.8" y="461.6" font-family="'Liberation Sans', sans-serif" font-size="12" fill="#131722" text-anchor="start" textLength="14.8" lengthAdjust="spacingAndGlyphs">Jul</text>
<text x="601.0" y="461.6" font-family="'Liberation Sans', sans-serif" font-size="12" fill="#131722" text-anchor="start" textLength="19.3" lengthAdjust="spacingAndGlyphs">Aug</text>
<text x="661.6" y="461.6" font-family="'Liberation Sans', sans-serif" font-size="12" fill="#131722" text-anchor="start" textLength="19" lengthAdjust="spacingAndGlyphs">Sep</text>
<text x="722.5" y="461.6" font-family="'Liberation Sans', sans-serif" font-size="12" fill="#131722" text-anchor="start" textLength="18.3" lengthAdjust="spacingAndGlyphs">Oct</text>
<text x="788.2" y="461.6" font-family="'Liberation Sans', sans-serif" font-size="12" fill="#131722" text-anchor="start" textLength="19.5" lengthAdjust="spacingAndGlyphs">Nov</text>
<text x="843.2" y="461.6" font-family="'Liberation Sans', sans-serif" font-size="12" fill="#131722" text-anchor="start" textLength="19" lengthAdjust="spacingAndGlyphs">Dec</text>
<text x="902.5" y="461.6" font-family="'Liberation Sans', sans-serif" font-size="12" fill="#131722" text-anchor="start" font-weight="bold" textLength="27.2" lengthAdjust="spacingAndGlyphs">2026</text>
<text x="964.3" y="461.6" font-family="'Liberation Sans', sans-serif" font-size="12" fill="#131722" text-anchor="start" textLength="19" lengthAdjust="spacingAndGlyphs">Feb</text>
<text x="1019.0" y="461.6" font-family="'Liberation Sans', sans-serif" font-size="12" fill="#131722" text-anchor="start" textLength="19" lengthAdjust="spacingAndGlyphs">Mar</text>
<text x="1083.1" y="461.6" font-family="'Liberation Sans', sans-serif" font-size="12" fill="#131722" text-anchor="start" textLength="17.7" lengthAdjust="spacingAndGlyphs">Apr</text>
<path d="M1140.7 452.4 H1148.6 L1151.9 458.4 L1148.6 464.4 H1140.7 L1137.4 458.4 Z" fill="none" stroke="#131722" stroke-width="1.05" stroke-linejoin="round"/>
<circle cx="1144.5" cy="458.4" r="2.05" fill="none" stroke="#131722" stroke-width="1.05"/>
<rect x="0" y="32" width="2" height="337" fill="#ededed"/>
<rect x="0" y="443" width="1.5" height="33" fill="#ececec"/>
</svg>
</body></html>
